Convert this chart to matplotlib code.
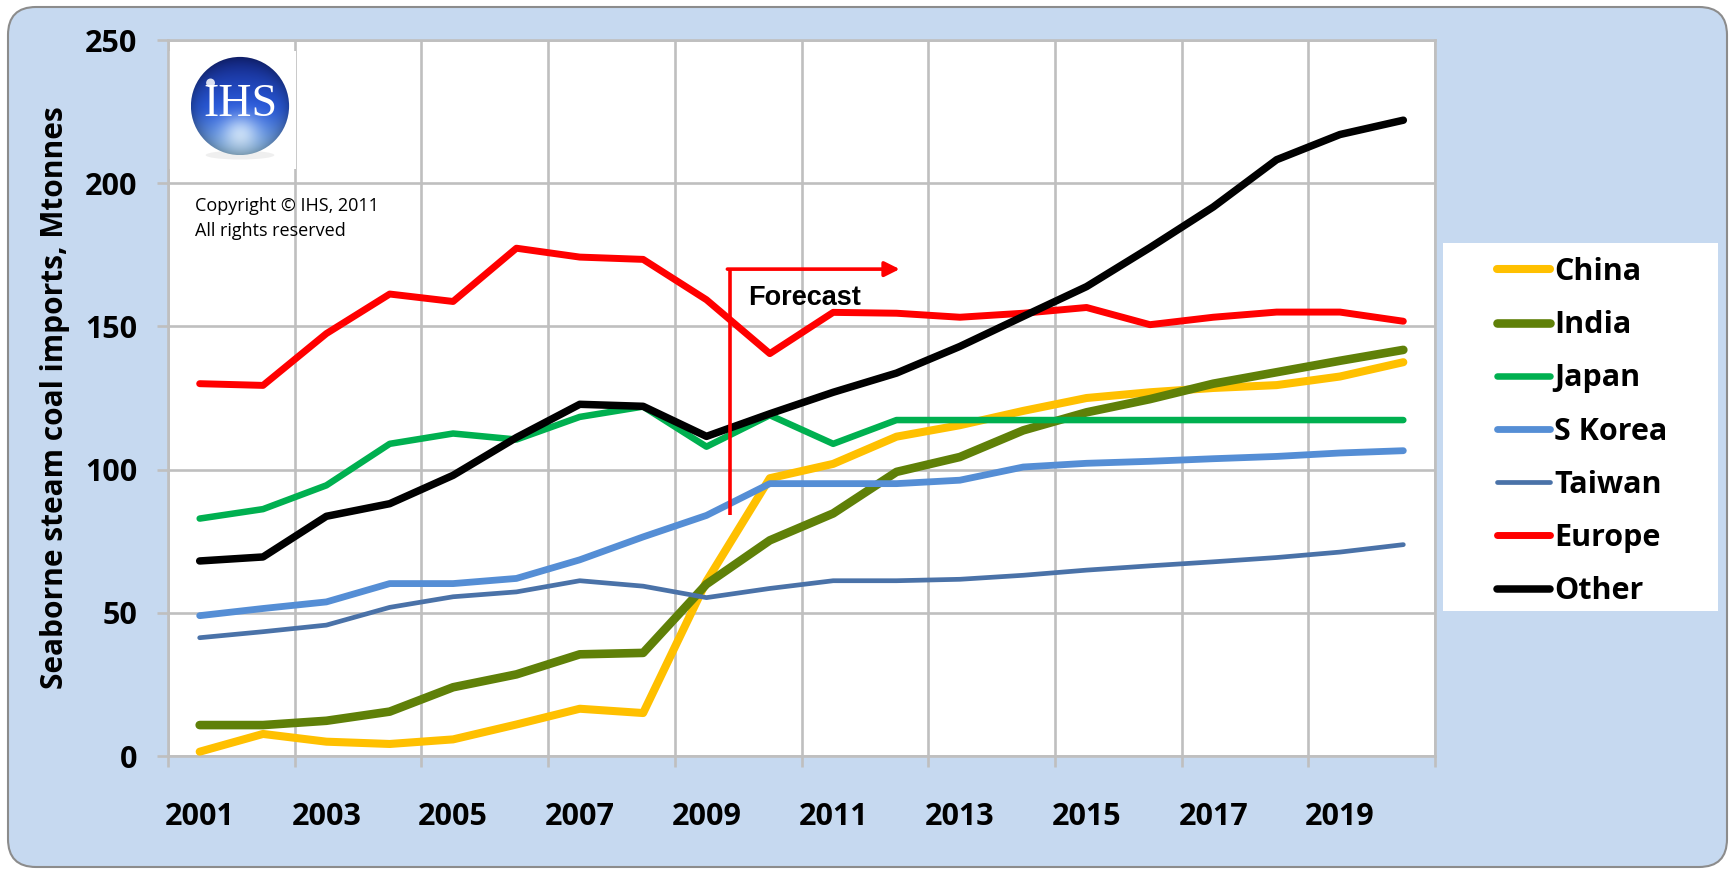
import numpy as np
import matplotlib
matplotlib.use("Agg")
import matplotlib.pyplot as plt
from matplotlib.patches import FancyBboxPatch, Rectangle, Circle, Ellipse

plt.rcParams['font.family'] = ['Open Sans', 'DejaVu Sans']

# ---- data (Mtonnes) ----
years = [str(y) for y in range(2001, 2021)]
china  = [1.5, 7.7, 5.0, 4.2, 5.8, 11.0, 16.5, 15.0, 61.0, 97.0, 102.0, 111.5, 115.5, 120.5, 125.0, 127.0, 128.5, 129.5, 132.5, 137.5]
india  = [10.8, 10.8, 12.3, 15.5, 24.0, 28.5, 35.5, 36.0, 60.0, 75.3, 84.7, 99.2, 104.4, 113.7, 120.0, 124.6, 130.0, 134.0, 138.0, 141.8]
japan  = [82.9, 86.2, 94.5, 109.0, 112.6, 110.5, 118.4, 122.0, 108.0, 119.0, 109.0, 117.3, 117.3, 117.3, 117.3, 117.3, 117.3, 117.3, 117.3, 117.3]
skorea = [49.0, 51.5, 53.8, 60.2, 60.2, 62.0, 68.5, 76.5, 84.0, 95.1, 95.1, 95.1, 96.3, 100.9, 102.2, 102.9, 103.8, 104.6, 105.8, 106.6]
taiwan = [41.3, 43.4, 45.7, 51.9, 55.6, 57.3, 61.2, 59.3, 55.3, 58.5, 61.2, 61.2, 61.7, 63.1, 64.9, 66.4, 67.8, 69.3, 71.2, 73.8]
europe = [130.0, 129.4, 147.5, 161.3, 158.7, 177.3, 174.2, 173.4, 159.3, 140.5, 154.9, 154.6, 153.2, 154.6, 156.6, 150.6, 153.2, 155.0, 155.0, 151.8]
other  = [68.1, 69.5, 83.7, 88.1, 98.0, 111.2, 122.8, 122.1, 111.6, 119.5, 127.0, 133.7, 143.0, 153.5, 163.9, 177.5, 191.7, 208.2, 217.0, 222.0]

series = [("China", china, '#FFC000', 5.8),
          ("India", india, '#5F8008', 6.2),
          ("Japan", japan, '#00B050', 4.7),
          ("S Korea", skorea, '#558ED5', 4.9),
          ("Taiwan", taiwan, '#4A72A8', 3.4),
          ("Europe", europe, '#FF0000', 5.0),
          ("Other", other, '#000000', 5.4)]

W, H = 1729, 871
fig = plt.figure(figsize=(W/100, H/100), dpi=100)
fig.patch.set_facecolor('white')

# rounded light-blue frame
frame = FancyBboxPatch((0.08, 0.04), 17.19, 8.60,
                       boxstyle="round,pad=0,rounding_size=0.28",
                       transform=fig.dpi_scale_trans, facecolor='#C6D9F0',
                       edgecolor='#8C8C8C', lw=1.5, zorder=-2)
fig.patches.append(frame)

def px(x0, y0, x1, y1):
    # pixel box (top-left origin) -> figure fraction rect
    return [x0/W, 1 - y1/H, (x1 - x0)/W, (y1 - y0)/H]

ax = fig.add_axes(px(168, 40, 1435, 756))
ax.set_facecolor('white')
ax.set_axisbelow(True)

grey = '#BFBFBF'
x = np.arange(len(years)) + 0.5
for name, vals, col, lw in series:
    ax.plot(x, vals, color=col, lw=lw, solid_capstyle='round',
            solid_joinstyle='round', label=name, zorder=3)

ax.set_xlim(0, 20)
ax.set_ylim(0, 250)
ax.set_yticks(np.arange(0, 251, 50))
ax.set_xticks(np.arange(0, 21, 2))
ax.set_xticklabels([])
ax.set_xticks(x[::2], years[::2], minor=True)
ax.grid(True, which='major', color=grey, lw=1.9)
for s in ax.spines.values():
    s.set_color(grey)
    s.set_linewidth(1.9)
ax.tick_params(which='major', length=8, width=1.9, color=grey,
               labelsize=22, pad=14)
ax.tick_params(axis='x', which='minor', length=0, labelsize=22, pad=33)
for lab in ax.get_yticklabels() + ax.get_xticklabels(minor=True):
    lab.set_fontweight('bold')

ax.set_ylabel('Seaborne steam coal imports, Mtonnes', fontsize=21.5,
              fontweight='bold', labelpad=11)

# white patch behind the logo
ax.add_patch(Rectangle((0, 205), 2.02, 41, facecolor='white',
                       edgecolor='none', zorder=1))
ax.text(0.43, 192.0, 'Copyright \u00a9 IHS, 2011', fontsize=13, va='center')
ax.text(0.43, 183.2, 'All rights reserved', fontsize=13, va='center')

# forecast marker
ax.plot([8.87, 8.87], [84, 170], color='#FF0000', lw=2.6, zorder=4,
        solid_capstyle='butt')
ax.annotate('', xy=(11.55, 170), xytext=(8.83, 170),
            arrowprops=dict(arrowstyle='-|>,head_length=0.9,head_width=0.45',
                            color='#FF0000', lw=2.6, shrinkA=0, shrinkB=0),
            zorder=4)
ax.text(9.15, 160, 'Forecast', fontsize=19.5, fontweight='bold',
        family='Liberation Sans', va='center', zorder=5)

# legend
fig.patches.append(Rectangle((1443/W, 1 - 611/H), (1718 - 1443)/W, (611 - 243)/H,
                             transform=fig.transFigure, facecolor='white',
                             edgecolor='none', zorder=-1))
leg = ax.legend(loc='upper left', bbox_to_anchor=(1497/W, 1 - 257/H),
                bbox_transform=fig.transFigure, frameon=False,
                prop={'size': 22, 'weight': 'bold'}, handlelength=1.75,
                handletextpad=0.12, labelspacing=0.76, borderpad=0,
                borderaxespad=0)

# IHS logo sphere
lax = fig.add_axes(px(186, 52, 294, 160))
lax.set_xlim(-1.1, 1.1)
lax.set_ylim(-1.1, 1.1)
lax.set_aspect('equal')
lax.axis('off')
lax.add_patch(Ellipse((0, -1.0), 1.4, 0.18, facecolor='#E0E0E0',
                      edgecolor='none', alpha=0.5))
n = 300
gx, gy = np.meshgrid(np.linspace(-1, 1, n), np.linspace(1, -1, n))
t = np.clip((1 - gy) / 2, 0, 1)
top = np.array([0.08, 0.16, 0.55])
mid = np.array([0.16, 0.35, 0.85])
bot = np.array([0.62, 0.84, 1.0])
img = np.where(t[..., None] < 0.5,
               top + (mid - top) * (2 * t[..., None]),
               mid + (bot - mid) * (2 * t[..., None] - 1) ** 1.3)
glow = np.exp(-((gx) ** 2 + (gy + 0.6) ** 2) / 0.15)
img = img + (np.array([0.92, 0.97, 1.0]) - img) * (0.75 * glow[..., None])
edge = np.clip(np.sqrt(gx ** 2 + gy ** 2), 0, 1)
img = img * (1 - 0.3 * edge[..., None] ** 5)
im = lax.imshow(np.clip(img, 0, 1), extent=(-1, 1, -1, 1), zorder=1)
im.set_clip_path(Circle((0, 0), 1.0, transform=lax.transData))
lax.add_patch(Circle((-0.6, 0.47), 0.09, facecolor='white',
                     edgecolor='none', alpha=0.85, zorder=3))
lax.text(0, 0.02, 'IHS', color='white', fontsize=33, family='Liberation Serif',
         ha='center', va='center', zorder=4)

fig.savefig('out.png', dpi=100, facecolor=fig.get_facecolor())
